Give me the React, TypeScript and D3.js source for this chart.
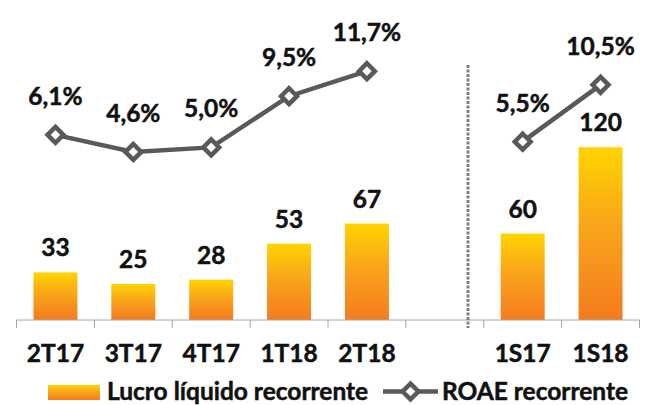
import { useEffect, useRef } from 'react'
import * as d3 from 'd3'

// categories ('' is the empty gap between quarters and semesters)
const categories = ['2T17', '3T17', '4T17', '1T18', '2T18', '', '1S17', '1S18']
const lucro: (number | null)[] = [33, 25, 28, 53, 67, null, 60, 120]
const roae: (number | null)[] = [6.1, 4.6, 5.0, 9.5, 11.7, null, 5.5, 10.5]
const legendLabels = ['Lucro líquido recorrente', 'ROAE recorrente']

const W = 647
const H = 405
const FONT = 'Lato, "Open Sans", sans-serif'
const FS = 24.5

export default function App() {
  const ref = useRef<SVGSVGElement>(null)

  useEffect(() => {
    const svg = d3.select(ref.current)
    svg.selectAll('*').remove()

    const x = d3.scaleBand<number>().domain(d3.range(categories.length)).range([16.5, 639.5])
    const y = d3.scaleLinear().domain([0, 190]).range([320, 46.4])
    const y2 = d3.scaleLinear().domain([-10, 14]).range([318, 45])
    const bw = x.bandwidth() * 0.565
    const cx = (i: number) => (x(i) as number) + x.bandwidth() / 2

    const txt = (sel: any) => sel
      .style('font', `bold ${FS}px ${FONT}`)
      .attr('fill', '#111')
      .attr('stroke', '#111')
      .attr('stroke-width', 0.5)

    const defs = svg.append('defs')
    const grad = defs.append('linearGradient')
      .attr('id', 'barGrad').attr('x1', 0).attr('y1', 0).attr('x2', 0).attr('y2', 1)
    grad.append('stop').attr('offset', '0%').attr('stop-color', '#ffd400')
    grad.append('stop').attr('offset', '45%').attr('stop-color', '#f9a51a')
    grad.append('stop').attr('offset', '100%').attr('stop-color', '#f47b20')

    // bars
    const bars = lucro.map((v, i) => ({ v, i })).filter(d => d.v != null) as { v: number, i: number }[]
    svg.append('g').selectAll('rect').data(bars).enter().append('rect')
      .attr('x', d => cx(d.i) - bw / 2)
      .attr('y', d => y(d.v))
      .attr('width', bw)
      .attr('height', d => y(0) - y(d.v))
      .attr('fill', 'url(#barGrad)')

    svg.append('g').selectAll('text').data(bars).enter().append('text')
      .attr('x', d => cx(d.i))
      .attr('y', d => y(d.v) - 16)
      .attr('text-anchor', 'middle')
      .call(txt)
      .text(d => d.v)

    // axis
    const axis = svg.append('g')
    axis.append('line')
      .attr('x1', 16.5).attr('x2', 639.5).attr('y1', y(0)).attr('y2', y(0))
      .attr('stroke', '#a6a6a6').attr('stroke-width', 1)
    const ticks = d3.range(categories.length + 1).map(i => i < categories.length ? (x(i) as number) : 639.5)
    axis.selectAll('line.tick').data(ticks).enter().append('line')
      .attr('class', 'tick')
      .attr('x1', d => d).attr('x2', d => d)
      .attr('y1', y(0)).attr('y2', y(0) + 8)
      .attr('stroke', '#a6a6a6')
    axis.selectAll('text').data(categories).enter().append('text')
      .attr('x', (d, i) => cx(i))
      .attr('y', 362)
      .attr('text-anchor', 'middle')
      .call(txt)
      .text(d => d)

    // separator
    svg.append('line')
      .attr('x1', 468).attr('x2', 468).attr('y1', 65).attr('y2', 328)
      .attr('stroke', '#7f7f7f').attr('stroke-width', 3)
      .attr('stroke-dasharray', '3 1.5')

    // ROAE line
    const pts = roae.map((v, i) => ({ v, i }))
    const line = d3.line<{ v: number | null, i: number }>()
      .defined(d => d.v != null)
      .x(d => cx(d.i))
      .y(d => y2(d.v as number))
    svg.append('path')
      .attr('d', line(pts))
      .attr('fill', 'none')
      .attr('stroke', '#595959')
      .attr('stroke-width', 4.5)

    const diamond = d3.symbol().type(d3.symbolDiamond2).size(160)
    const valid = pts.filter(d => d.v != null) as { v: number, i: number }[]
    svg.append('g').selectAll('path').data(valid).enter().append('path')
      .attr('d', diamond)
      .attr('transform', d => `translate(${cx(d.i)},${y2(d.v)})`)
      .attr('fill', '#fff')
      .attr('stroke', '#595959')
      .attr('stroke-width', 4.5)

    svg.append('g').selectAll('text').data(valid).enter().append('text')
      .attr('x', d => cx(d.i))
      .attr('y', d => y2(d.v) - 30)
      .attr('text-anchor', 'middle')
      .call(txt)
      .text(d => d3.format('.1f')(d.v).replace('.', ',') + '%')

    // legend
    const lg = svg.append('g')
    lg.append('rect').attr('x', 48).attr('y', 385).attr('width', 52).attr('height', 15)
      .attr('fill', 'url(#barGrad)')
    lg.append('text').attr('x', 107).attr('y', 399.5)
      .call(txt)
      .text(legendLabels[0])
    lg.append('line').attr('x1', 383).attr('x2', 438).attr('y1', 391.5).attr('y2', 391.5)
      .attr('stroke', '#595959').attr('stroke-width', 4.5)
    lg.append('path').attr('d', diamond)
      .attr('transform', 'translate(410.5,391.5)')
      .attr('fill', '#fff').attr('stroke', '#595959').attr('stroke-width', 4.5)
    lg.append('text').attr('x', 442).attr('y', 399.5)
      .call(txt)
      .text(legendLabels[1])
  }, [])

  return (
    <svg ref={ref} width={W} height={H}
      style={{ position: 'absolute', left: 0, top: 0, background: '#fff' }} />
  )
}
